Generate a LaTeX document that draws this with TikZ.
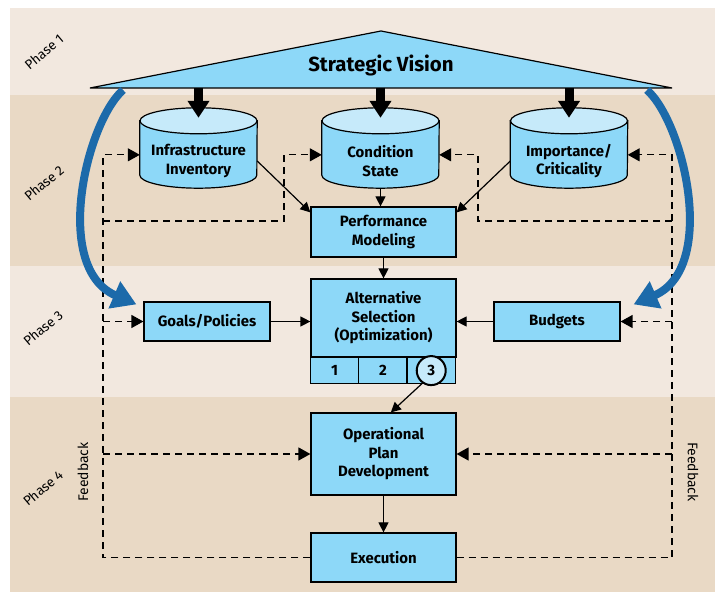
\documentclass[tikz,border=0pt]{standalone}
\usepackage{fontspec}
\setmainfont{Fira Sans}
\usetikzlibrary{arrows.meta,positioning,calc,backgrounds}

\definecolor{bandlight}{RGB}{242,232,223}
\definecolor{banddark}{RGB}{233,217,197}
\definecolor{boxblue}{RGB}{141,216,248}
\definecolor{toplight}{RGB}{198,234,250}
\definecolor{sweepblue}{RGB}{28,106,170}

\begin{document}
\begin{tikzpicture}[x=1bp,y=1bp,
    box/.style={draw, line width=1.2bp, fill=boxblue, align=center, inner sep=0pt,
        font=\fontsize{15}{18.5}\selectfont\bfseries},
    store/.style={minimum width=117bp, minimum height=54bp, inner sep=0pt, align=center,
        font=\fontsize{15}{18.5}\selectfont\bfseries},
    cell/.style={draw, line width=1.2bp, fill=boxblue, minimum width=48.33bp, minimum height=26bp,
        inner sep=0pt, outer sep=0pt, font=\fontsize{15}{18}\selectfont\bfseries},
    ring/.style={circle, draw, line width=2bp, fill=toplight, minimum size=29bp, inner sep=0pt,
        font=\fontsize{15}{18}\selectfont\bfseries},
    phase/.style={rotate=40, font=\fontsize{13.5}{15}\selectfont},
    fbtext/.style={font=\fontsize{14}{16}\selectfont},
    link/.style={line width=1.2bp, -{Triangle[length=10bp,width=10bp]}},
    fb/.style={line width=1.3bp, dash pattern=on 7bp off 5bp, -{Triangle[length=12bp,width=13bp]}},
    bigarrow/.style={line width=9bp, -{Triangle[length=17bp,width=21bp]}},
    sweep/.style={line width=8bp, draw=sweepblue, -{Triangle[length=24bp,width=28bp]}}]
    \useasboundingbox (0,0) rectangle (715,593);
    %%%PHASES%%%
    \begin{scope}[on background layer]
        \fill[bandlight] (10,498) rectangle (715,585);
        \fill[banddark] (10,327) rectangle (715,498);
        \fill[bandlight] (10,196) rectangle (715,327);
        \fill[banddark] (10,1) rectangle (715,196);
    \end{scope}
    \node[phase] (ph1) at (44,541) {Phase 1};
    \node[phase] (ph2) at (44,410) {Phase 2};
    \node[phase] (ph3) at (43,265) {Phase 3};
    \node[phase] (ph4) at (43,105) {Phase 4};
    %vision
    \draw[line width=1.2bp, fill=boxblue] (90,505) coordinate (vl) -- (381,562) -- (672,505) coordinate (vr) -- cycle;
    \coordinate (base) at (381,505);
    \node[font=\fontsize{20.5}{24}\selectfont\bfseries] (vision) at (381,528) {Strategic Vision};
    %stores
    \node[store] (inv) at (198.5,432) {Infrastructure\\Inventory};
    \node[store] (cond) at (380.5,432) {Condition\\State};
    \node[store] (imp) at (569,432) {Importance/\\Criticality};
    \begin{scope}[on background layer]
        \foreach \n in {inv,cond,imp}{
            \draw[line width=1.2bp, fill=boxblue] ($(\n.north west)+(0,13)$) -- ($(\n.south west)+(0,13)$)
                arc[start angle=180, end angle=360, x radius=58.5, y radius=13] -- ($(\n.north east)+(0,13)$) -- cycle;
            \draw[line width=1.2bp, fill=toplight] ($(\n.north)+(0,13)$) ellipse[x radius=58.5, y radius=13];
        }
    \end{scope}
    %boxes
    \node[box, minimum width=145bp, minimum height=50bp] (perf) at (383.5,361) {Performance\\Modeling};
    \node[box, minimum width=145bp, minimum height=78bp] (alt) at (383.5,275) {Alternative\\Selection\\(Optimization)};
    \node[cell, anchor=north west] (c1) at (alt.south west) {1};
    \node[cell, right=0pt of c1] (c2) {2};
    \node[cell, right=0pt of c2] (c3) {};
    \node[ring] (sel) at (c3) {3};
    \node[box, minimum width=126bp, minimum height=39bp] (goals) at (207,271.5) {Goals/Policies};
    \node[box, minimum width=126bp, minimum height=39bp] (budgets) at (557,271.5) {Budgets};
    \node[box, minimum width=145bp, minimum height=82bp] (oper) at (383.5,139) {Operational\\Plan\\Development};
    \node[box, minimum width=145bp, minimum height=49bp] (exec) at (383.5,35.5) {Execution};
    %next
    \draw[bigarrow] (base -| inv) -- ($(inv.north)+(0,16)$);
    \draw[bigarrow] (base -| cond) -- ($(cond.north)+(0,16)$);
    \draw[bigarrow] (base -| imp) -- ($(imp.north)+(0,16)$);
    \draw[link] (inv.east) -- (perf.165);
    \draw[link] (imp.west) -- (perf.15);
    \draw[link] (cond.south) -- (cond.south |- perf.north);
    \draw[link] (perf.south) -- (alt.north);
    \draw[link] (goals.east) -- (goals.east -| alt.west);
    \draw[link] (budgets.west) -- (budgets.west -| alt.east);
    \draw[link] (sel.235) -- (oper.80);
    \draw[link] (oper.south) -- (exec.north);
    %feedback
    \coordinate (lfb) at (103,372);
    \coordinate (rfb) at (672,372);
    \coordinate (loopl) at (284,372);
    \coordinate (loopr) at (478,372);
    \draw[fb] (exec.west) -| (lfb |- inv.174) -- (inv.174);
    \draw[fb] (lfb) -| (loopl |- cond.174) -- (cond.174);
    \draw[fb] (lfb |- goals) -- (goals.west);
    \draw[fb] (lfb |- oper) -- (oper.west);
    \draw[fb] (exec.east) -| (rfb |- imp.6) -- (imp.6);
    \draw[fb] (rfb) -| (loopr |- cond.6) -- (cond.6);
    \draw[fb] (rfb |- budgets) -- (budgets.east);
    \draw[fb] (rfb |- oper) -- (oper.east);
    \node[fbtext, rotate=90] (fbl) at (83,121) {Feedback};
    \node[fbtext, rotate=-90] (fbr) at (693,121) {Feedback};
    %sweeps
    \draw[sweep] ($(vl)+(33,-2)$) .. controls (86,470) and (52,325) .. ($(goals.north west)+(-7,-3)$);
    \draw[sweep] ($(vr)+(-25,-2)$) .. controls (684,470) and (718,325) .. ($(budgets.north east)+(13,-3)$);
\end{tikzpicture}
\end{document}
